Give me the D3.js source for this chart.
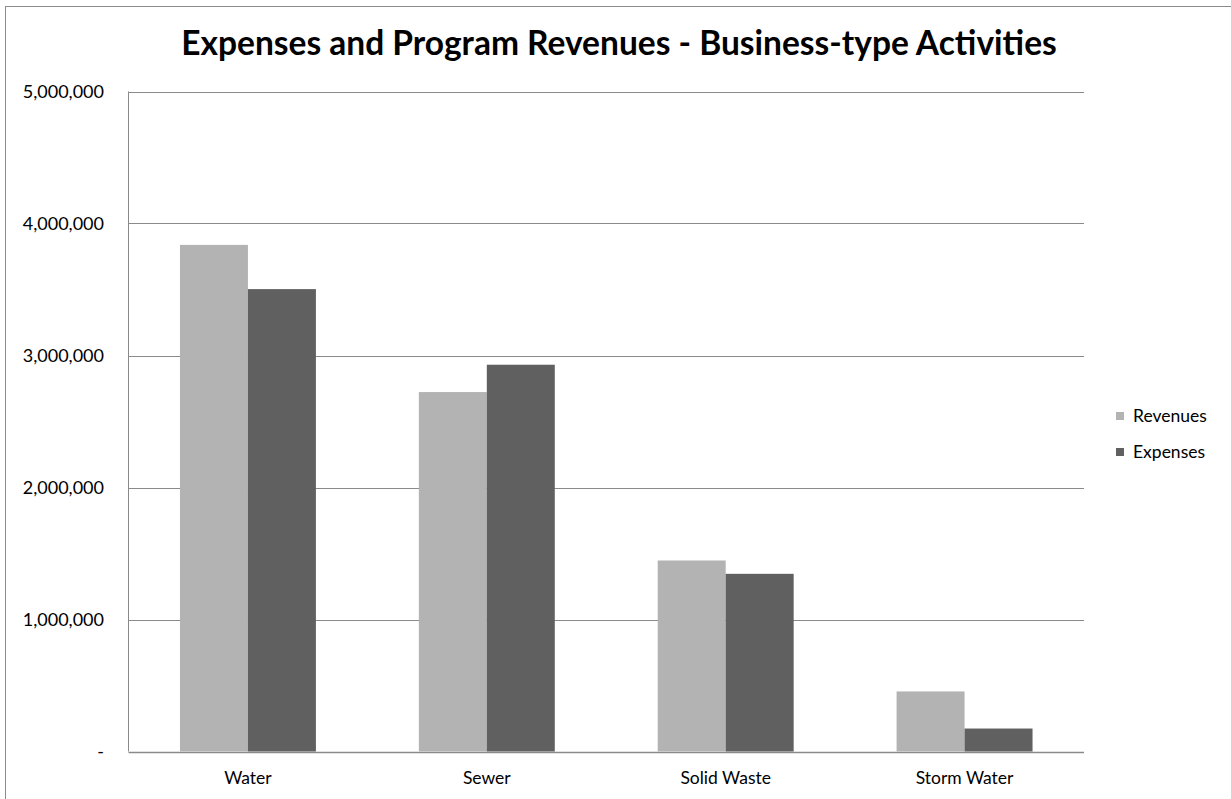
<!DOCTYPE html>
<html>
<head>
<meta charset="utf-8">
<script src="https://cdn.jsdelivr.net/npm/d3@7"></script>
<style>
  body { margin: 0; background: #fff; }
  text { font-family: Lato, "Liberation Sans", sans-serif; fill: #000; }
</style>
</head>
<body>
<div id="viz_area"></div>
<script>
// data
var categories = ["Water", "Sewer", "Solid Waste", "Storm Water"];
var seriesNames = ["Revenues", "Expenses"];
var revenues = [3838000, 2723000, 1447000, 455000];
var expenses = [3503000, 2930000, 1346000, 174000];
var yTicks = [0, 1000000, 2000000, 3000000, 4000000, 5000000];
var colors = ["#b3b3b3", "#606060"];

function draw() {
    var w = 1231;
    var h = 799;

    var svg = d3.select("#viz_area")
                .append("svg")
                .attr("width", w)
                .attr("height", h);

    // chart frame (runs off the right and bottom edges in the original)
    svg.append("rect")
       .attr("x", 5.5).attr("y", 6.5)
       .attr("width", w + 20).attr("height", h + 20)
       .attr("fill", "none")
       .attr("stroke", "#8c8c8c")
       .attr("stroke-width", 1);

    var plot = { left: 128.5, right: 1084, top: 91.5, bottom: 751.5 };

    var x0 = d3.scaleBand()
               .domain(categories)
               .range([plot.left, plot.right])
               .padding(0);

    var x1 = d3.scaleBand()
               .domain(seriesNames)
               .range([0, x0.bandwidth()])
               .paddingInner(0)
               .paddingOuter(0.757);

    var y = d3.scaleLinear()
              .domain([0, 5000000])
              .range([plot.bottom, plot.top]);

    // gridlines
    svg.append("g")
       .selectAll("line")
       .data(yTicks)
       .enter()
       .append("line")
       .attr("x1", plot.left).attr("x2", plot.right)
       .attr("y1", (d) => Math.round(y(d)) + 0.5)
       .attr("y2", (d) => Math.round(y(d)) + 0.5)
       .attr("stroke", "#8a8a8a")
       .attr("stroke-width", (d) => d === 0 ? 1.5 : 1);

    // left axis line
    svg.append("line")
       .attr("x1", plot.left).attr("x2", plot.left)
       .attr("y1", plot.top).attr("y2", plot.bottom)
       .attr("stroke", "#8a8a8a");

    // y labels
    var fmt = d3.format(",");
    svg.append("g")
       .selectAll("text")
       .data(yTicks)
       .enter()
       .append("text")
       .attr("x", 104)
       .attr("y", (d) => y(d))
       .attr("dy", "0.35em")
       .attr("text-anchor", "end")
       .style("font-size", "18px")
       .text((d) => d === 0 ? "-" : fmt(d));

    // bars
    var rows = categories.map(function(c, i) {
        return { cat: c, vals: [revenues[i], expenses[i]] };
    });

    var groups = svg.selectAll("g.grp")
                    .data(rows)
                    .enter()
                    .append("g")
                    .attr("class", "grp")
                    .attr("transform", (d) => "translate(" + x0(d.cat) + ",0)");

    groups.selectAll("rect")
          .data((d) => d.vals.map((v, j) => ({ name: seriesNames[j], value: v, idx: j })))
          .enter()
          .append("rect")
          .attr("x", (d) => x1(d.name))
          .attr("y", (d) => y(d.value))
          .attr("width", x1.bandwidth())
          .attr("height", (d) => y(0) - y(d.value))
          .attr("fill", (d) => colors[d.idx]);

    // x labels
    svg.append("g")
       .selectAll("text")
       .data(categories)
       .enter()
       .append("text")
       .attr("x", (d) => x0(d) + x0.bandwidth() / 2)
       .attr("y", 778)
       .attr("dy", "0.35em")
       .attr("text-anchor", "middle")
       .style("font-size", "17.5px")
       .text((d) => d);

    // title
    svg.append("text")
       .attr("x", 619)
       .attr("y", 55)
       .attr("text-anchor", "middle")
       .style("font-size", "33.5px")
       .style("font-weight", "bold")
       .text("Expenses and Program Revenues - Business-type Activities");

    // legend
    var legend = svg.selectAll("g.leg")
                    .data(seriesNames)
                    .enter()
                    .append("g")
                    .attr("class", "leg")
                    .attr("transform", (d, i) => "translate(1116," + (416 + i * 36) + ")");

    legend.append("rect")
          .attr("x", 0).attr("y", -4)
          .attr("width", 8).attr("height", 8)
          .attr("fill", (d, i) => colors[i]);

    legend.append("text")
          .attr("x", 17)
          .attr("y", 0)
          .attr("dy", "0.35em")
          .style("font-size", "17.5px")
          .text((d) => d);
}

window.onload = draw;
</script>
</body>
</html>
